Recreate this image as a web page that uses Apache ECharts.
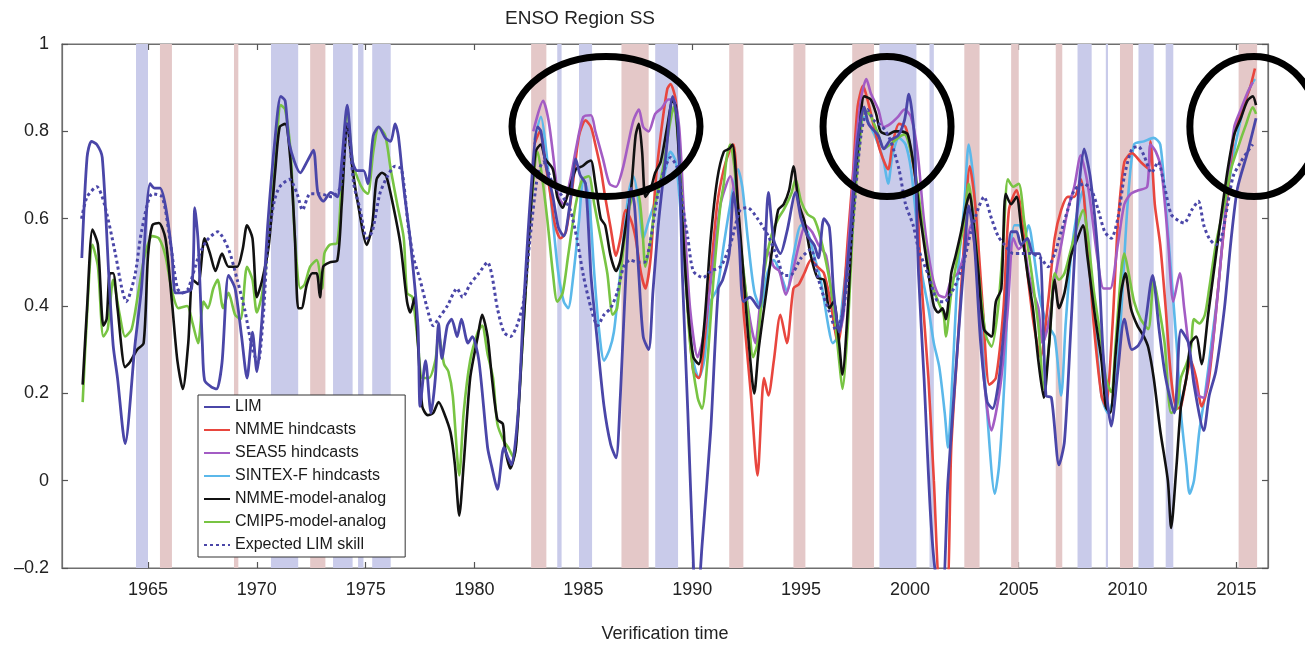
<!DOCTYPE html>
<html>
<head>
<meta charset="utf-8">
<title>ENSO Region SS</title>
<script src="https://cdn.jsdelivr.net/npm/echarts@6/dist/echarts.min.js"></script>
<style>
  html, body { margin: 0; padding: 0; background: #fff; }
  #chart { width: 1305px; height: 648px; }
</style>
</head>
<body>
<div id="chart"></div>
<script>
// tick labels on the time axis
const yearTicks = [1965, 1970, 1975, 1980, 1985, 1990, 1995, 2000, 2005, 2010, 2015];

// shaded events: [start, end] in years
const elNinoBands = [[1965.55,1966.1],[1968.95,1969.15],[1972.45,1973.15],[1982.6,1983.3],[1986.75,1988.0],
  [1991.7,1992.35],[1994.65,1995.2],[1997.35,1998.35],[2002.5,2003.2],[2004.65,2005.0],[2006.7,2007.0],
  [2009.65,2010.25],[2015.1,2015.95]];
const laNinaBands = [[1964.45,1965.0],[1970.65,1971.9],[1973.5,1974.4],[1974.65,1974.9],[1975.3,1976.15],
  [1983.8,1984.0],[1984.8,1985.4],[1988.3,1989.35],[1998.6,2000.3],[2000.9,2001.1],[2007.7,2008.35],
  [2009.0,2009.1],[2010.5,2011.2],[2011.75,2012.1]];

// circled spots [year, value]
const circles = [[1986.04, 0.811, 94, 70], [1998.95, 0.811, 64, 70], [2015.8, 0.811, 64, 70]];

const lim = [[1961.96,0.51],[1962.2,0.74],[1962.4,0.777],[1962.65,0.77],[1962.9,0.74],[1963.2,0.47],[1963.4,0.31],
  [1963.6,0.235],[1963.95,0.085],[1964.4,0.31],[1964.7,0.44],[1965.1,0.68],[1965.3,0.67],[1965.55,0.67],[1965.8,0.63],
  [1966.1,0.52],[1966.25,0.43],[1966.5,0.43],[1967.0,0.44],[1967.15,0.625],[1967.3,0.55],[1967.5,0.31],[1967.6,0.23],
  [1967.9,0.215],[1968.15,0.21],[1968.4,0.27],[1968.7,0.47],[1969.0,0.44],[1969.3,0.33],[1969.55,0.235],[1969.8,0.34],
  [1970.0,0.25],[1970.25,0.38],[1970.5,0.585],[1970.85,0.79],[1971.1,0.88],[1971.3,0.87],[1971.5,0.77],[1972.0,0.705],
  [1972.3,0.73],[1972.6,0.757],[1972.8,0.66],[1973.05,0.64],[1973.4,0.66],[1973.7,0.65],[1973.9,0.73],[1974.15,0.86],
  [1974.4,0.73],[1974.6,0.71],[1974.9,0.71],[1975.1,0.68],[1975.35,0.79],[1975.6,0.81],[1975.9,0.785],[1976.15,0.777],
  [1976.35,0.817],[1976.5,0.79],[1976.75,0.67],[1977.05,0.55],[1977.4,0.355],[1977.5,0.17],[1977.75,0.275],[1978.0,0.155],
  [1978.2,0.235],[1978.35,0.36],[1978.5,0.28],[1978.75,0.355],[1978.95,0.37],[1979.2,0.33],[1979.4,0.37],[1979.7,0.315],
  [1979.9,0.33],[1980.2,0.275],[1980.6,0.076],[1980.8,0.03],[1981.05,-0.02],[1981.35,0.076],[1981.55,0.052],[1981.7,0.036],
  [1982.0,0.155],[1982.25,0.395],[1982.6,0.67],[1982.9,0.81],[1983.05,0.80],[1983.25,0.73],[1983.6,0.65],[1983.85,0.58],
  [1984.1,0.56],[1984.4,0.64],[1984.65,0.737],[1984.85,0.70],[1985.1,0.68],[1985.35,0.47],[1985.65,0.315],[1985.95,0.17],
  [1986.25,0.084],[1986.5,0.052],[1986.7,0.195],[1986.95,0.47],[1987.2,0.67],[1987.35,0.63],[1987.55,0.47],[1987.75,0.33],
  [1988.0,0.30],[1988.2,0.435],[1988.45,0.59],[1988.8,0.75],[1989.1,0.88],[1989.35,0.81],[1989.55,0.47],[1989.8,0.155],
  [1990.0,-0.12],[1990.2,-0.32],[1990.45,-0.15],[1990.85,0.115],[1991.2,0.44],[1991.4,0.46],[1991.7,0.52],[1991.9,0.66],
  [1992.15,0.55],[1992.35,0.41],[1992.65,0.42],[1993.05,0.395],[1993.3,0.49],[1993.5,0.66],[1993.75,0.55],[1994.05,0.52],
  [1994.35,0.57],[1994.75,0.66],[1995.0,0.60],[1995.3,0.56],[1995.6,0.54],[1995.8,0.51],[1996.05,0.60],[1996.3,0.58],
  [1996.5,0.43],[1996.75,0.34],[1996.95,0.40],[1997.3,0.59],[1997.6,0.78],[1997.9,0.856],[1998.1,0.817],[1998.55,0.79],
  [1998.8,0.76],[1999.1,0.78],[1999.45,0.79],[1999.75,0.825],[1999.95,0.885],[2000.2,0.79],[2000.4,0.47],[2000.65,0.235],
  [2000.95,-0.08],[2001.2,-0.22],[2001.5,-0.25],[2001.75,0.0],[2002.2,0.315],[2002.5,0.51],[2002.7,0.63],[2002.95,0.55],
  [2003.25,0.315],[2003.55,0.18],[2003.8,0.165],[2004.1,0.235],[2004.4,0.395],[2004.65,0.57],[2004.9,0.57],[2005.1,0.54],
  [2005.4,0.555],[2005.65,0.52],[2005.95,0.52],[2006.25,0.195],[2006.5,0.19],[2006.85,0.036],[2007.1,0.09],[2007.4,0.355],
  [2007.7,0.63],[2008.0,0.76],[2008.3,0.69],[2008.65,0.51],[2008.9,0.275],[2009.25,0.125],[2009.55,0.25],[2009.85,0.37],
  [2010.2,0.30],[2010.5,0.31],[2010.75,0.34],[2011.15,0.47],[2011.45,0.345],[2011.75,0.235],[2012.15,0.155],[2012.45,0.345],
  [2012.8,0.315],[2013.05,0.22],[2013.5,0.115],[2013.75,0.195],[2014.05,0.25],[2014.45,0.395],[2014.75,0.55],[2015.05,0.67],
  [2015.5,0.75],[2015.9,0.83]];

const nmme = [[1982.75,0.77],[1983.0,0.80],[1983.25,0.73],[1983.5,0.65],[1983.7,0.585],[1983.95,0.555],[1984.2,0.57],
  [1984.5,0.673],[1984.8,0.79],[1985.1,0.825],[1985.35,0.81],[1985.55,0.77],[1985.8,0.713],[1986.0,0.65],[1986.25,0.58],
  [1986.5,0.515],[1986.7,0.555],[1986.95,0.62],[1987.2,0.595],[1987.4,0.555],[1987.65,0.475],[1987.85,0.44],[1988.1,0.515],
  [1988.3,0.673],[1988.55,0.79],[1988.85,0.896],[1989.0,0.908],[1989.25,0.87],[1989.5,0.673],[1989.8,0.395],[1990.05,0.25],
  [1990.3,0.235],[1990.55,0.315],[1990.85,0.475],[1991.15,0.633],[1991.45,0.713],[1991.75,0.76],[1991.9,0.77],[1992.1,0.633],
  [1992.35,0.395],[1992.7,0.195],[1993.0,0.012],[1993.3,0.235],[1993.5,0.195],[1993.75,0.275],[1994.05,0.38],[1994.35,0.315],
  [1994.65,0.44],[1994.9,0.45],[1995.15,0.475],[1995.45,0.505],[1995.75,0.49],[1996.05,0.475],[1996.35,0.41],[1996.7,0.315],
  [1996.9,0.38],[1997.15,0.555],[1997.4,0.713],[1997.6,0.857],[1997.85,0.904],[1998.05,0.873],[1998.35,0.81],[1998.65,0.753],
  [1999.0,0.713],[1999.2,0.77],[1999.5,0.817],[1999.8,0.81],[2000.05,0.753],[2000.3,0.673],[2000.5,0.475],[2000.85,0.235],
  [2001.1,0.0],[2001.4,-0.25],[2001.7,-0.25],[2001.9,0.076],[2002.2,0.315],[2002.5,0.555],[2002.75,0.72],[2003.0,0.633],
  [2003.35,0.395],[2003.65,0.22],[2003.95,0.235],[2004.3,0.395],[2004.55,0.62],[2004.9,0.665],[2005.1,0.62],[2005.4,0.475],
  [2005.7,0.355],[2006.0,0.283],[2006.35,0.41],[2006.65,0.555],[2006.95,0.62],[2007.25,0.65],[2007.55,0.65],[2007.85,0.69],
  [2008.15,0.555],[2008.45,0.355],[2008.8,0.195],[2009.0,0.17],[2009.3,0.35],[2009.55,0.585],[2009.85,0.73],[2010.2,0.75],
  [2010.6,0.73],[2010.95,0.715],[2011.05,0.777],[2011.25,0.633],[2011.5,0.54],[2011.75,0.395],[2012.0,0.235],[2012.25,0.165],
  [2012.45,0.17],[2012.7,0.235],[2012.9,0.275],[2013.15,0.235],[2013.4,0.17],[2013.7,0.22],[2014.0,0.355],[2014.3,0.515],
  [2014.6,0.657],[2014.9,0.793],[2015.3,0.857],[2015.6,0.896],[2015.85,0.944]];

const seas5 = [[1982.7,0.8],[1983.15,0.87],[1983.4,0.825],[1983.65,0.73],[1983.85,0.65],[1984.1,0.633],[1984.4,0.69],
  [1984.7,0.77],[1985.0,0.833],[1985.35,0.837],[1985.55,0.80],[1985.9,0.737],[1986.2,0.68],[1986.5,0.673],[1986.8,0.713],
  [1987.05,0.77],[1987.3,0.825],[1987.55,0.85],[1987.75,0.81],[1988.0,0.80],[1988.3,0.84],[1988.6,0.853],[1988.9,0.873],
  [1989.15,0.873],[1989.4,0.81],[1989.6,0.633],[1989.9,0.395],[1990.25,0.283],[1990.45,0.315],[1990.7,0.395],[1991.0,0.515],
  [1991.3,0.633],[1991.75,0.697],[1992.1,0.595],[1992.35,0.475],[1992.65,0.37],[1992.9,0.315],[1993.1,0.395],[1993.45,0.53],
  [1993.75,0.49],[1994.0,0.48],[1994.3,0.426],[1994.6,0.475],[1994.9,0.54],[1995.2,0.585],[1995.5,0.57],[1995.8,0.54],
  [1996.15,0.515],[1996.45,0.41],[1996.75,0.34],[1996.95,0.38],[1997.2,0.555],[1997.45,0.73],[1997.75,0.873],[1998.0,0.92],
  [1998.2,0.888],[1998.55,0.85],[1998.8,0.81],[1999.1,0.817],[1999.45,0.833],[1999.75,0.85],[2000.05,0.833],[2000.35,0.753],
  [2000.65,0.595],[2001.0,0.475],[2001.3,0.426],[2001.6,0.42],[2001.9,0.46],[2002.2,0.475],[2002.5,0.52],[2002.8,0.585],
  [2003.1,0.475],[2003.4,0.235],[2003.75,0.115],[2003.95,0.155],[2004.2,0.235],[2004.5,0.395],[2004.75,0.555],[2005.0,0.53],
  [2005.2,0.54],[2005.45,0.475],[2005.65,0.434],[2005.9,0.395],[2006.1,0.315],[2006.35,0.355],[2006.65,0.46],[2006.95,0.54],
  [2007.25,0.62],[2007.55,0.673],[2007.85,0.745],[2008.1,0.697],[2008.3,0.633],[2008.6,0.515],[2008.9,0.44],[2009.2,0.44],
  [2009.55,0.54],[2009.85,0.633],[2010.15,0.657],[2010.5,0.665],[2010.9,0.673],[2011.05,0.77],[2011.3,0.753],[2011.55,0.713],
  [2011.85,0.555],[2012.1,0.41],[2012.4,0.475],[2012.6,0.395],[2012.9,0.275],[2013.25,0.195],[2013.5,0.19],[2013.7,0.235],
  [2014.0,0.355],[2014.3,0.515],[2014.6,0.673],[2014.9,0.81],[2015.2,0.85],[2015.5,0.888],[2015.75,0.912]];

const sintex = [[1982.75,0.78],[1983.05,0.833],[1983.3,0.753],[1983.6,0.595],[1983.85,0.475],[1984.1,0.41],[1984.3,0.395],
  [1984.55,0.475],[1984.8,0.595],[1985.0,0.69],[1985.25,0.65],[1985.5,0.475],[1985.7,0.355],[1985.95,0.275],[1986.2,0.30],
  [1986.4,0.34],[1986.6,0.43],[1986.85,0.555],[1987.1,0.665],[1987.3,0.697],[1987.55,0.633],[1987.75,0.555],[1988.0,0.595],
  [1988.25,0.633],[1988.45,0.673],[1988.7,0.697],[1989.0,0.753],[1989.25,0.73],[1989.5,0.595],[1989.8,0.395],[1990.05,0.275],
  [1990.3,0.235],[1990.55,0.275],[1990.85,0.41],[1991.15,0.44],[1991.45,0.54],[1991.75,0.633],[1992.1,0.713],[1992.3,0.673],
  [1992.55,0.555],[1992.85,0.434],[1993.15,0.395],[1993.45,0.475],[1993.75,0.505],[1994.05,0.475],[1994.35,0.434],[1994.65,0.515],
  [1995.0,0.585],[1995.3,0.57],[1995.6,0.515],[1995.9,0.46],[1996.25,0.355],[1996.45,0.315],[1996.7,0.33],[1996.95,0.434],
  [1997.3,0.595],[1997.6,0.753],[1997.9,0.833],[1998.2,0.81],[1998.55,0.77],[1998.8,0.73],[1999.0,0.68],[1999.2,0.745],
  [1999.5,0.785],[1999.8,0.77],[2000.05,0.713],[2000.3,0.595],[2000.55,0.475],[2000.85,0.395],[2001.1,0.315],[2001.35,0.26],
  [2001.6,0.155],[2001.75,0.076],[2001.95,0.235],[2002.2,0.475],[2002.5,0.633],[2002.7,0.77],[2002.95,0.673],[2003.25,0.395],
  [2003.55,0.155],[2003.9,-0.03],[2004.1,0.036],[2004.35,0.235],[2004.55,0.475],[2004.8,0.585],[2005.0,0.585],[2005.25,0.555],
  [2005.45,0.585],[2005.7,0.515],[2006.0,0.41],[2006.35,0.355],[2006.65,0.33],[2006.95,0.195],[2007.15,0.355],[2007.4,0.515],
  [2007.7,0.62],[2007.95,0.665],[2008.15,0.555],[2008.45,0.395],[2008.8,0.195],[2009.1,0.155],[2009.4,0.20],[2009.7,0.38],
  [2010.0,0.633],[2010.3,0.77],[2010.75,0.777],[2011.2,0.785],[2011.5,0.77],[2011.75,0.633],[2012.0,0.475],[2012.25,0.315],
  [2012.45,0.155],[2012.7,0.036],[2012.85,-0.03],[2013.05,0.0],[2013.3,0.115],[2013.55,0.195],[2013.85,0.315],[2014.15,0.434],
  [2014.45,0.595],[2014.75,0.713],[2015.05,0.793],[2015.35,0.857],[2015.65,0.904],[2015.85,0.92]];

const nmmeAnalog = [[1962.0,0.22],[1962.2,0.395],[1962.45,0.575],[1962.7,0.54],[1962.95,0.355],[1963.1,0.37],[1963.25,0.475],
  [1963.4,0.475],[1963.6,0.395],[1963.95,0.26],[1964.15,0.27],[1964.5,0.30],[1964.8,0.315],[1965.0,0.515],[1965.2,0.585],
  [1965.5,0.59],[1965.8,0.555],[1966.1,0.41],[1966.35,0.275],[1966.6,0.21],[1966.85,0.315],[1967.05,0.46],[1967.3,0.45],
  [1967.6,0.555],[1967.85,0.52],[1968.1,0.48],[1968.4,0.52],[1968.7,0.49],[1969.1,0.49],[1969.35,0.53],[1969.55,0.585],
  [1969.8,0.555],[1970.0,0.42],[1970.25,0.46],[1970.55,0.54],[1970.85,0.713],[1971.05,0.81],[1971.3,0.817],[1971.55,0.73],
  [1971.75,0.555],[1971.9,0.395],[1972.05,0.395],[1972.3,0.45],[1972.55,0.475],[1972.75,0.475],[1972.9,0.42],[1973.05,0.49],
  [1973.35,0.50],[1973.7,0.505],[1973.9,0.633],[1974.15,0.817],[1974.4,0.713],[1974.65,0.633],[1975.05,0.54],[1975.3,0.585],
  [1975.5,0.69],[1975.75,0.705],[1975.95,0.697],[1976.25,0.633],[1976.6,0.54],[1976.9,0.41],[1977.05,0.385],[1977.25,0.42],
  [1977.4,0.315],[1977.6,0.17],[1977.85,0.15],[1978.1,0.155],[1978.35,0.18],[1978.6,0.155],[1978.9,0.11],[1979.1,0.036],
  [1979.3,-0.08],[1979.5,0.036],[1979.8,0.235],[1980.15,0.33],[1980.35,0.38],[1980.6,0.33],[1980.8,0.235],[1981.05,0.14],
  [1981.3,0.13],[1981.4,0.076],[1981.65,0.028],[1981.9,0.076],[1982.2,0.315],[1982.5,0.555],[1982.8,0.753],[1983.05,0.77],
  [1983.25,0.737],[1983.6,0.713],[1983.8,0.65],[1984.05,0.625],[1984.25,0.65],[1984.65,0.713],[1984.95,0.72],[1985.2,0.73],
  [1985.35,0.733],[1985.55,0.68],[1985.8,0.60],[1986.0,0.585],[1986.25,0.515],[1986.5,0.48],[1986.7,0.505],[1986.95,0.585],
  [1987.2,0.67],[1987.4,0.79],[1987.55,0.817],[1987.7,0.753],[1987.85,0.65],[1988.1,0.67],[1988.3,0.705],[1988.55,0.73],
  [1988.85,0.81],[1989.1,0.87],[1989.25,0.857],[1989.5,0.633],[1989.8,0.395],[1990.05,0.283],[1990.3,0.267],[1990.55,0.355],
  [1990.85,0.555],[1991.15,0.69],[1991.45,0.753],[1991.7,0.76],[1991.85,0.77],[1992.1,0.633],[1992.35,0.475],[1992.6,0.315],
  [1992.85,0.20],[1993.05,0.30],[1993.4,0.43],[1993.7,0.54],[1993.95,0.62],[1994.2,0.633],[1994.45,0.665],[1994.65,0.72],
  [1994.9,0.633],[1995.15,0.595],[1995.45,0.515],[1995.75,0.465],[1996.05,0.46],[1996.3,0.395],[1996.5,0.41],[1996.75,0.315],
  [1996.9,0.243],[1997.15,0.395],[1997.4,0.633],[1997.7,0.81],[1997.9,0.88],[1998.2,0.873],[1998.45,0.84],[1998.65,0.80],
  [1999.0,0.793],[1999.3,0.80],[1999.6,0.80],[1999.9,0.793],[2000.2,0.713],[2000.5,0.595],[2000.85,0.475],[2001.1,0.40],
  [2001.3,0.385],[2001.5,0.395],[2001.65,0.37],[2001.9,0.475],[2002.1,0.515],[2002.35,0.57],[2002.6,0.633],[2002.75,0.657],
  [2002.9,0.60],[2003.15,0.475],[2003.4,0.347],[2003.75,0.33],[2003.95,0.41],[2004.2,0.44],[2004.4,0.657],[2004.65,0.633],
  [2004.9,0.65],[2005.1,0.585],[2005.4,0.475],[2005.65,0.395],[2005.9,0.275],[2006.15,0.19],[2006.4,0.315],[2006.65,0.46],
  [2006.85,0.395],[2007.1,0.43],[2007.4,0.515],[2007.7,0.555],[2007.95,0.585],[2008.15,0.515],[2008.45,0.395],[2008.8,0.275],
  [2009.0,0.17],[2009.2,0.155],[2009.45,0.29],[2009.7,0.43],[2009.9,0.475],[2010.15,0.395],[2010.45,0.355],[2010.75,0.33],
  [2010.95,0.305],[2011.2,0.235],[2011.5,0.115],[2011.85,0.0],[2012.0,-0.108],[2012.25,0.036],[2012.45,0.17],[2012.7,0.235],
  [2012.9,0.315],[2013.15,0.33],[2013.4,0.267],[2013.7,0.38],[2013.95,0.475],[2014.2,0.57],[2014.6,0.713],[2014.9,0.793],
  [2015.2,0.83],[2015.5,0.87],[2015.75,0.88],[2015.9,0.86]];

const cmip5Analog = [[1962.0,0.18],[1962.2,0.38],[1962.45,0.54],[1962.7,0.49],[1962.95,0.33],[1963.15,0.347],[1963.4,0.46],
  [1963.7,0.38],[1963.95,0.33],[1964.25,0.347],[1964.55,0.43],[1964.85,0.515],[1965.2,0.56],[1965.5,0.555],[1965.8,0.515],
  [1966.1,0.435],[1966.4,0.395],[1966.8,0.40],[1967.05,0.36],[1967.3,0.315],[1967.55,0.41],[1967.75,0.395],[1968.0,0.44],
  [1968.2,0.46],[1968.45,0.395],[1968.7,0.43],[1969.0,0.38],[1969.25,0.37],[1969.55,0.49],[1969.8,0.46],[1970.0,0.385],
  [1970.25,0.43],[1970.55,0.555],[1970.85,0.73],[1971.1,0.86],[1971.3,0.85],[1971.55,0.753],[1971.75,0.555],[1972.0,0.44],
  [1972.2,0.45],[1972.45,0.49],[1972.75,0.505],[1973.0,0.44],[1973.1,0.52],[1973.35,0.54],[1973.7,0.545],[1973.9,0.697],
  [1974.15,0.85],[1974.4,0.73],[1974.65,0.69],[1974.9,0.665],[1975.1,0.657],[1975.35,0.753],[1975.6,0.81],[1975.9,0.79],
  [1976.15,0.713],[1976.45,0.633],[1976.75,0.555],[1976.9,0.43],[1977.15,0.42],[1977.4,0.315],[1977.6,0.235],[1977.9,0.235],
  [1978.2,0.275],[1978.35,0.335],[1978.6,0.267],[1978.8,0.25],[1979.0,0.195],[1979.3,0.012],[1979.5,0.155],[1979.8,0.275],
  [1980.15,0.34],[1980.35,0.355],[1980.6,0.29],[1980.85,0.235],[1981.05,0.13],[1981.35,0.09],[1981.55,0.076],[1981.8,0.052],
  [1982.0,0.155],[1982.25,0.355],[1982.55,0.595],[1982.9,0.753],[1983.1,0.697],[1983.35,0.595],[1983.6,0.475],[1983.8,0.41],
  [1984.05,0.43],[1984.3,0.515],[1984.65,0.633],[1984.95,0.69],[1985.25,0.697],[1985.5,0.633],[1985.8,0.555],[1986.1,0.475],
  [1986.35,0.38],[1986.55,0.395],[1986.8,0.515],[1987.0,0.595],[1987.25,0.65],[1987.5,0.657],[1987.7,0.585],[1987.85,0.49],
  [1988.1,0.555],[1988.3,0.633],[1988.65,0.713],[1988.95,0.81],[1989.15,0.857],[1989.4,0.753],[1989.6,0.555],[1989.9,0.315],
  [1990.25,0.19],[1990.45,0.165],[1990.7,0.275],[1991.0,0.475],[1991.3,0.633],[1991.45,0.68],[1991.6,0.745],[1991.75,0.77],
  [1991.95,0.713],[1992.2,0.555],[1992.55,0.395],[1992.8,0.283],[1993.0,0.315],[1993.3,0.475],[1993.6,0.555],[1993.95,0.60],
  [1994.2,0.62],[1994.55,0.657],[1994.75,0.69],[1995.0,0.64],[1995.3,0.61],[1995.6,0.60],[1995.9,0.555],[1996.25,0.475],
  [1996.5,0.395],[1996.75,0.275],[1996.9,0.21],[1997.15,0.355],[1997.4,0.595],[1997.7,0.777],[1997.9,0.85],[1998.2,0.835],
  [1998.55,0.793],[1998.8,0.76],[1999.1,0.77],[1999.45,0.785],[1999.75,0.793],[2000.05,0.753],[2000.35,0.673],[2000.65,0.555],
  [2001.0,0.45],[2001.3,0.41],[2001.55,0.38],[2001.65,0.33],[2001.9,0.43],[2002.2,0.515],[2002.5,0.595],[2002.7,0.68],
  [2002.95,0.585],[2003.25,0.43],[2003.5,0.33],[2003.75,0.307],[2004.05,0.395],[2004.3,0.555],[2004.5,0.69],[2004.75,0.673],
  [2005.0,0.68],[2005.25,0.595],[2005.55,0.49],[2005.9,0.355],[2006.15,0.21],[2006.4,0.315],[2006.65,0.475],[2006.85,0.46],
  [2007.1,0.475],[2007.4,0.53],[2007.7,0.585],[2007.95,0.62],[2008.15,0.57],[2008.45,0.434],[2008.8,0.315],[2009.0,0.235],
  [2009.25,0.203],[2009.45,0.315],[2009.7,0.475],[2009.85,0.52],[2010.05,0.475],[2010.3,0.41],[2010.6,0.37],[2010.95,0.347],
  [2011.2,0.46],[2011.45,0.395],[2011.7,0.315],[2012.0,0.155],[2012.25,0.165],[2012.45,0.235],[2012.7,0.267],[2012.9,0.30],
  [2013.05,0.37],[2013.3,0.36],[2013.55,0.38],[2013.75,0.44],[2014.05,0.54],[2014.45,0.633],[2014.75,0.713],[2015.05,0.76],
  [2015.45,0.817],[2015.75,0.855],[2015.9,0.84]];

const expectedLim = [[1961.95,0.60],[1962.2,0.65],[1962.65,0.673],[1963.0,0.633],[1963.5,0.52],[1963.8,0.44],[1964.0,0.41],
  [1964.4,0.47],[1964.7,0.57],[1965.2,0.657],[1965.65,0.65],[1966.0,0.555],[1966.35,0.44],[1966.6,0.43],[1966.85,0.44],
  [1967.3,0.51],[1967.7,0.55],[1968.2,0.57],[1968.7,0.53],[1969.1,0.46],[1969.45,0.39],[1969.8,0.30],[1970.05,0.27],
  [1970.3,0.38],[1970.5,0.54],[1970.8,0.64],[1971.05,0.673],[1971.5,0.69],[1971.85,0.657],[1972.1,0.62],[1972.45,0.657],
  [1972.9,0.657],[1973.45,0.65],[1973.85,0.673],[1974.15,0.82],[1974.45,0.68],[1974.75,0.62],[1975.05,0.555],[1975.3,0.57],
  [1975.65,0.657],[1976.0,0.697],[1976.35,0.72],[1976.65,0.713],[1976.95,0.585],[1977.2,0.51],[1977.5,0.46],[1977.8,0.40],
  [1978.1,0.355],[1978.4,0.375],[1978.75,0.40],[1979.2,0.44],[1979.45,0.42],[1979.8,0.45],[1980.2,0.475],[1980.6,0.50],
  [1980.8,0.47],[1981.05,0.395],[1981.35,0.34],[1981.65,0.33],[1981.95,0.355],[1982.25,0.41],[1982.55,0.555],[1982.9,0.70],
  [1983.15,0.73],[1983.6,0.68],[1984.05,0.65],[1984.4,0.62],[1984.7,0.555],[1985.0,0.47],[1985.35,0.395],[1985.65,0.355],
  [1985.95,0.38],[1986.25,0.395],[1986.55,0.43],[1986.85,0.49],[1987.15,0.505],[1987.5,0.50],[1987.8,0.50],[1988.1,0.555],
  [1988.4,0.65],[1988.7,0.71],[1989.0,0.74],[1989.35,0.713],[1989.55,0.633],[1989.8,0.555],[1990.05,0.48],[1990.5,0.465],
  [1990.85,0.48],[1991.3,0.49],[1991.75,0.54],[1992.2,0.62],[1992.55,0.625],[1993.0,0.60],[1993.5,0.56],[1993.95,0.505],
  [1994.2,0.47],[1994.5,0.47],[1995.0,0.51],[1995.45,0.53],[1995.75,0.47],[1996.05,0.42],[1996.35,0.38],[1996.6,0.345],
  [1996.9,0.38],[1997.15,0.47],[1997.45,0.63],[1997.75,0.79],[1998.05,0.85],[1998.35,0.825],[1998.75,0.81],[1999.1,0.78],
  [1999.5,0.713],[1999.8,0.633],[2000.15,0.585],[2000.4,0.53],[2000.85,0.47],[2001.1,0.43],[2001.3,0.41],[2001.6,0.41],
  [2001.9,0.43],[2002.2,0.46],[2002.5,0.505],[2002.8,0.57],[2003.15,0.625],[2003.4,0.65],[2003.75,0.60],[2004.05,0.56],
  [2004.35,0.54],[2004.75,0.52],[2005.1,0.52],[2005.55,0.52],[2006.0,0.51],[2006.35,0.49],[2006.65,0.52],[2006.95,0.57],
  [2007.25,0.62],[2007.55,0.665],[2008.0,0.68],[2008.35,0.665],[2008.65,0.62],[2008.95,0.57],[2009.25,0.555],[2009.55,0.60],
  [2009.85,0.697],[2010.2,0.76],[2010.5,0.765],[2010.75,0.745],[2011.1,0.705],[2011.4,0.73],[2011.7,0.673],[2012.0,0.61],
  [2012.35,0.595],[2012.6,0.59],[2012.95,0.62],[2013.25,0.64],[2013.5,0.585],[2013.75,0.555],[2014.05,0.54],[2014.3,0.555],
  [2014.6,0.633],[2014.85,0.697],[2015.2,0.73],[2015.5,0.753],[2015.75,0.77]];

const FONT = "'Liberation Sans', Arial, Helvetica, sans-serif";
const LIM_BLUE = '#4a46a8';

const chart = echarts.init(document.getElementById('chart'), null, { renderer: 'canvas' });

function lineSeries(name, data, color, z, extra) {
  return Object.assign({
    name: name,
    type: 'line',
    data: data,
    symbol: 'none',
    smooth: 0.25,
    z: z,
    clip: true,
    lineStyle: { color: color, width: 2.6 },
    itemStyle: { color: color },
    emphasis: { disabled: true }
  }, extra || {});
}

const bandAreas = elNinoBands.map(b => [{ xAxis: b[0], itemStyle: { color: '#e4c8c8' } }, { xAxis: b[1] }])
  .concat(laNinaBands.map(b => [{ xAxis: b[0], itemStyle: { color: '#c9cbea' } }, { xAxis: b[1] }]));

const legendNames = ['LIM', 'NMME hindcasts', 'SEAS5 hindcasts', 'SINTEX-F hindcasts',
  'NMME-model-analog', 'CMIP5-model-analog', 'Expected LIM skill'];

const frameLine = { show: true, onZero: false, lineStyle: { color: '#6e6e6e', width: 1.2 } };

const option = {
  animation: false,
  backgroundColor: '#fff',
  textStyle: { fontFamily: FONT },
  grid: { left: 62, right: 37, top: 44, bottom: 78, show: true, borderColor: '#6e6e6e', borderWidth: 1.2, backgroundColor: 'transparent' },
  legend: {
    data: legendNames,
    orient: 'vertical',
    left: 198,
    top: 395,
    itemWidth: 26,
    itemHeight: 14,
    itemGap: 7,
    padding: [4, 19, 4, 5],
    backgroundColor: '#fff',
    borderColor: '#333',
    borderWidth: 1,
    borderRadius: 0,
    itemStyle: { opacity: 0 },
    textStyle: { fontSize: 16, color: '#1a1a1a', fontFamily: FONT },
    selectedMode: false,
    z: 20
  },
  xAxis: [{
    type: 'value',
    min: 1961.05,
    max: 2016.45,
    position: 'bottom',
    name: 'Verification time',
    nameLocation: 'middle',
    nameGap: 57,
    nameTextStyle: { fontSize: 18, color: '#222', fontFamily: FONT },
    splitLine: { show: false },
    axisLine: frameLine,
    axisTick: { show: true, inside: true, length: 6, customValues: yearTicks, lineStyle: { color: '#555', width: 1.2 } },
    axisLabel: { customValues: yearTicks, fontSize: 18, color: '#222', margin: 13, fontFamily: FONT,
      formatter: v => String(Math.round(v)) }
  }, {
    type: 'value',
    min: 1961.05,
    max: 2016.45,
    position: 'top',
    splitLine: { show: false },
    axisLine: frameLine,
    axisTick: { show: true, inside: true, length: 6, customValues: yearTicks, lineStyle: { color: '#555', width: 1.2 } },
    axisLabel: { show: false }
  }],
  yAxis: [{
    type: 'value',
    min: -0.2,
    max: 1,
    interval: 0.2,
    position: 'left',
    splitLine: { show: false },
    axisLine: frameLine,
    axisTick: { show: true, inside: true, length: 6, lineStyle: { color: '#555', width: 1.2 } },
    axisLabel: { fontSize: 18, color: '#222', margin: 13, fontFamily: FONT,
      formatter: v => { const r = Math.round(v * 10) / 10; return r < 0 ? '\u2013' + String(-r) : String(r); } }
  }, {
    type: 'value',
    min: -0.2,
    max: 1,
    interval: 0.2,
    position: 'right',
    splitLine: { show: false },
    axisLine: frameLine,
    axisTick: { show: true, inside: true, length: 6, lineStyle: { color: '#555', width: 1.2 } },
    axisLabel: { show: false }
  }],
  series: [
    {
      name: 'events',
      type: 'line',
      data: [[1961.05, -1]],
      symbol: 'none',
      silent: true,
      z: 1,
      lineStyle: { width: 0, opacity: 0 },
      markArea: { silent: true, data: bandAreas }
    },
    lineSeries('SINTEX-F hindcasts', sintex, '#5bb8ea', 3),
    lineSeries('NMME hindcasts', nmme, '#e8463e', 4),
    lineSeries('SEAS5 hindcasts', seas5, '#a35cc4', 5),
    lineSeries('CMIP5-model-analog', cmip5Analog, '#78c443', 6),
    lineSeries('NMME-model-analog', nmmeAnalog, '#111111', 7),
    lineSeries('LIM', lim, LIM_BLUE, 8, { lineStyle: { color: LIM_BLUE, width: 2.8 } }),
    lineSeries('Expected LIM skill', expectedLim, LIM_BLUE, 9, { lineStyle: { color: LIM_BLUE, width: 3, type: [3, 3] } })
  ]
};

chart.setOption(option);

// title, and circles placed from data coordinates
const ellipses = circles.map(c => {
  const p = chart.convertToPixel({ gridIndex: 0 }, [c[0], c[1]]);
  return {
    type: 'ellipse',
    z: 100,
    silent: true,
    shape: { cx: p[0], cy: p[1], rx: c[2], ry: c[3] },
    style: { fill: null, stroke: '#000', lineWidth: 7 }
  };
});

chart.setOption({
  graphic: [{
    type: 'text',
    x: 580,
    y: 19,
    z: 100,
    style: { text: 'ENSO Region SS', font: '19px ' + FONT, fill: '#222', textAlign: 'center', textVerticalAlign: 'middle' }
  }].concat(ellipses)
});
</script>
</body>
</html>
